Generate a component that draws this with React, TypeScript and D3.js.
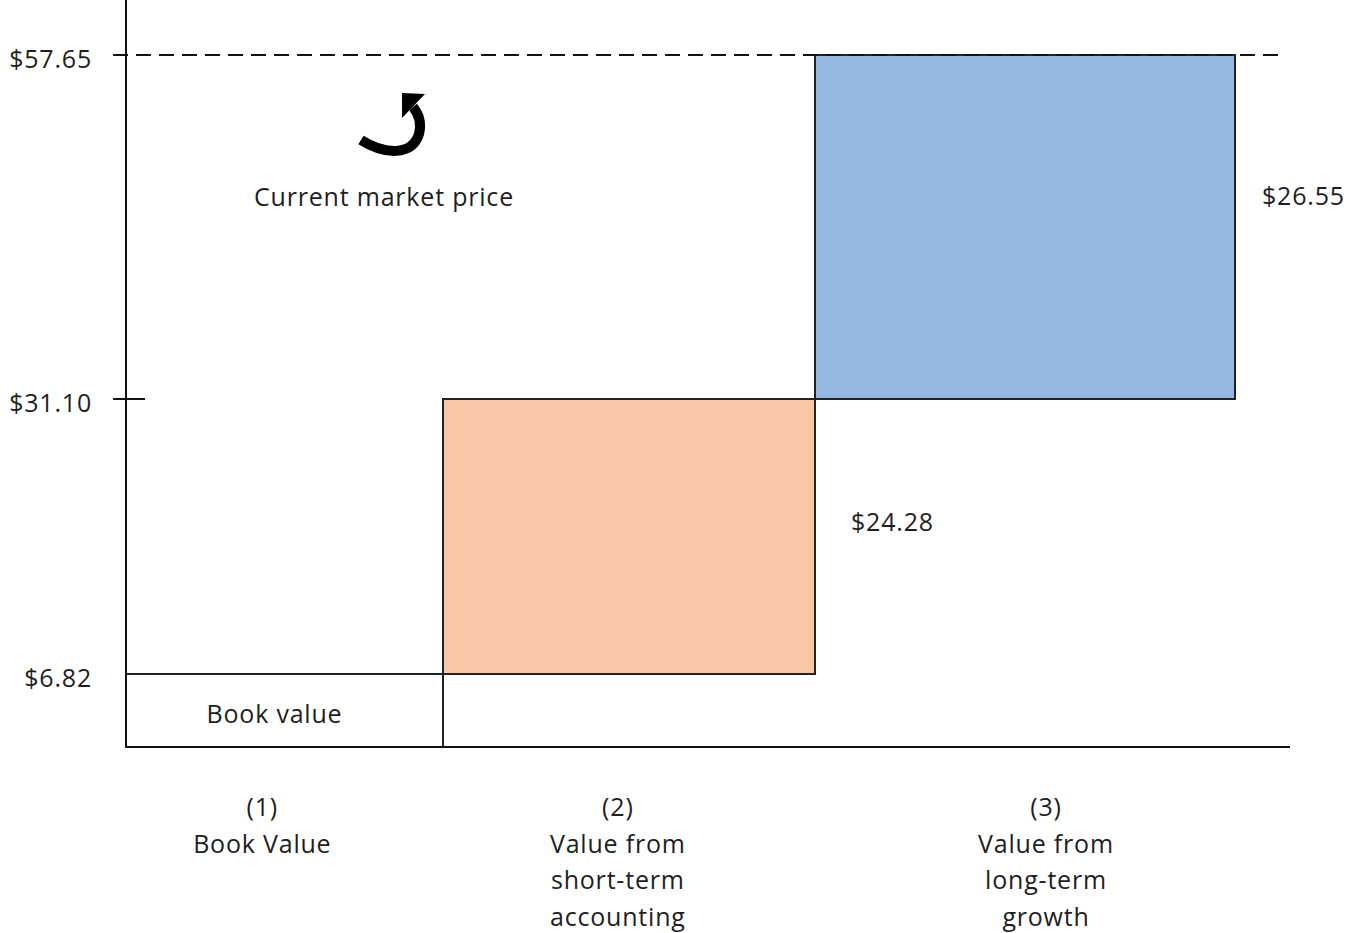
import * as d3 from "d3";

// tick labels on the value axis
const tickValues = [6.82, 31.1, 57.65];
const tickLabels = ["$6.82", "$31.10", "$57.65"];

// the three building blocks of the price
const categoryIds = ["(1)", "(2)", "(3)"];
const categoryNames = [
  ["Book Value"],
  ["Value from", "short-term", "accounting"],
  ["Value from", "long-term", "growth"],
];
const starts = [0, 6.82, 31.1];
const amounts = [6.82, 24.28, 26.55];
const valueLabels = ["Book value", "$24.28", "$26.55"];
const fills = ["none", "#F9C6A6", "#95B8E3"];

const marketPrice = 57.65;
const marketLabel = "Current market price";

const W = 1351;
const H = 933;
const FONT = "'Open Sans', 'Noto Sans', sans-serif";
const FS = 25;

const App = () => {
  // drawn by hand in the original, so the scales are piecewise
  const y = d3
    .scaleLinear()
    .domain([0, 6.82, 31.1, 57.65])
    .range([747, 674, 399, 55]);
  const x = d3.scaleLinear().domain([0, 1, 2, 3]).range([126, 443, 815, 1235]);
  const labelShift = [0.43, 0.47, 0.55];

  const arrow = d3.path();
  arrow.moveTo(361, 140);
  arrow.bezierCurveTo(385, 155, 412, 156, 419, 134);
  arrow.bezierCurveTo(422, 122, 418, 113, 413, 107);

  return (
    <svg
      width={W}
      height={H}
      style={{ position: "absolute", left: 0, top: 0, background: "#fff" }}
      fontFamily={FONT}
      fontSize={FS}
      letterSpacing={0.8}
    >
      {/* blocks */}
      {amounts.map((a, i) => (
        <rect
          key={i}
          x={x(i)}
          y={y(starts[i] + a)}
          width={x(i + 1) - x(i)}
          height={y(starts[i]) - y(starts[i] + a)}
          fill={fills[i]}
          stroke="#222"
          strokeWidth={2}
        />
      ))}

      {/* axes */}
      <line x1={126} x2={126} y1={0} y2={y(0)} stroke="#111" strokeWidth={2} />
      <line x1={126} x2={1290} y1={y(0)} y2={y(0)} stroke="#111" strokeWidth={2} />
      <line
        x1={113}
        x2={1278}
        y1={y(marketPrice)}
        y2={y(marketPrice)}
        stroke="#111"
        strokeWidth={2}
        strokeDasharray="15 8"
      />
      <line x1={113} x2={145} y1={y(31.1)} y2={y(31.1)} stroke="#111" strokeWidth={2} />

      {tickValues.map((v, i) => (
        <text
          key={i}
          x={92}
          y={y(v) + 3}
          textAnchor="end"
          dominantBaseline="central"
          fill="#1e1e1e"
        >
          {tickLabels[i]}
        </text>
      ))}

      {/* value labels */}
      <text
        x={(x(0) + x(1)) / 2 - 10}
        y={(y(0) + y(starts[1])) / 2 + 2}
        textAnchor="middle"
        dominantBaseline="central"
        fill="#1e1e1e"
      >
        {valueLabels[0]}
      </text>
      {[1, 2].map((i) => (
        <text
          key={i}
          x={x(i + 1) + (i === 1 ? 36 : 27)}
          y={(y(starts[i]) + y(starts[i] + amounts[i])) / 2 - (i === 1 ? 16 : 32)}
          dominantBaseline="central"
          fill="#1e1e1e"
        >
          {valueLabels[i]}
        </text>
      ))}

      {/* market price note */}
      <path d={arrow.toString()} fill="none" stroke="#000" strokeWidth={10} />
      <polygon points="402,93 425,94 402,118" fill="#000" />
      <text x={384} y={196} textAnchor="middle" dominantBaseline="central" fill="#1e1e1e">
        {marketLabel}
      </text>

      {/* category labels */}
      {categoryIds.map((id, i) => (
        <text key={id} x={x(i + labelShift[i])} textAnchor="middle" fill="#1e1e1e">
          {[id, ...categoryNames[i]].map((line, j) => (
            <tspan key={j} x={x(i + labelShift[i])} y={806 + j * 36.5} dominantBaseline="central">
              {line}
            </tspan>
          ))}
        </text>
      ))}
    </svg>
  );
};

export default App;
